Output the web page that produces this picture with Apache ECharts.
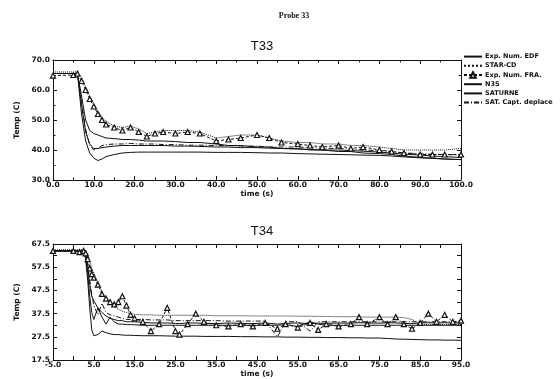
<!DOCTYPE html>
<html>
<head>
<meta charset="utf-8">
<script src="https://cdn.jsdelivr.net/npm/echarts@6/dist/echarts.min.js"></script>
<style>
  html, body { margin: 0; padding: 0; background: #fff; }
  #main { width: 560px; height: 379px; }
</style>
</head>
<body>
<div id="main"></div>
<script>
// noms des courbes (legende)
var names = ['Exp. Num. EDF', 'STAR-CD', 'Exp. Num. FRA.', 'N3S', 'SATURNE', 'SAT. Capt. deplace'];

// T33 : temps (s)
var t33 = [0, 5, 6, 7, 8, 9, 10, 11, 12, 13,
           15, 17, 19, 21, 23, 25, 27, 30, 33, 36,
           40, 43, 46, 50, 53, 56, 60, 63, 66, 70,
           73, 76, 80, 83, 86, 90, 93, 96, 100];
var edf33 = [65.5, 65.5, 65.5, 58, 50, 46.5, 45.5, 45, 44.5, 44,
             43.8, 43.5, 43.5, 43.3, 43, 43, 43, 42.8, 42.5, 42.5,
             42, 41.5, 41.5, 41, 41, 40.5, 40.5, 40, 40, 39.5,
             39.5, 39, 38.8, 38.5, 38, 37.5, 37.3, 37, 36.8];
var star33 = [66, 66, 66, 64, 61, 58, 55.5, 53, 51, 49.5,
              48, 47.5, 48, 47, 45.5, 46, 46.5, 46.5, 46.5, 46,
              44, 44.5, 45, 45, 44, 43, 42.5, 42.5, 42, 42,
              41.5, 41.5, 41, 40.5, 40, 40, 40, 40, 40.5];
var fra33 = [64.8, 65, 65.5, 63, 60, 57, 54.5, 52, 50, 48.5,
             47.5, 46.5, 47.5, 46, 44.5, 45.5, 46, 45.5, 46, 45.5,
             43, 43.5, 44, 45, 44, 42.5, 42, 41.5, 41, 41.5,
             40.5, 41, 40, 39.5, 39, 38.5, 38.5, 38.5, 38.5];
var n3s33 = [65.5, 65.5, 65.5, 52, 43, 39, 37.3, 36.5, 37, 37.8,
             38.5, 39, 39.2, 39.3, 39.3, 39.3, 39.3, 39.3, 39.3, 39.3,
             39.2, 39.2, 39.2, 39.1, 39, 39, 38.8, 38.7, 38.6, 38.5,
             38.4, 38.3, 38.2, 38, 37.7, 37.4, 37.2, 37, 36.8];
var sat33 = [65.5, 65.5, 65.5, 55, 46, 42, 40.5, 40.5, 40.8, 41,
             41.3, 41.5, 41.5, 41.5, 41.5, 41.5, 41.5, 41.3, 41.3, 41.2,
             41, 41, 40.8, 40.8, 40.6, 40.5, 40.3, 40.2, 40, 40,
             39.8, 39.6, 39.3, 39, 38.6, 38.3, 38, 37.8, 37.5];
var satc33 = [65.5, 65.5, 65.5, 56, 47, 41.5, 40, 40.5, 41.5, 41.8,
              42, 42, 42.2, 42, 42, 42, 41.8, 41.8, 41.6, 41.6,
              41.5, 41.5, 41.3, 41.3, 41, 41, 41, 40.8, 40.6, 40.5,
              40.3, 40, 39.8, 39.5, 39, 38.8, 38.6, 38.5, 38.3];

// T34 : temps (s)
var t34 = [-5, 0, 1.5, 2.5, 3, 3.5, 4, 4.5, 5,
           6, 7, 8, 9, 10, 11, 12, 13, 14, 15,
           17, 19, 21, 23, 25, 26, 28, 30, 32, 35,
           38, 41, 44, 47, 50, 52, 55, 58, 60, 62,
           65, 68, 70, 72, 75, 77, 79, 81, 83, 85,
           87, 89, 91, 93, 95];
var edf34 = [64.5, 64.5, 64.5, 64.3, 63, 58, 50, 45, 43,
             40, 38, 36.5, 35.5, 35, 34.5, 34.5, 34, 34, 34,
             33.8, 33.5, 33.5, 33.5, 33.3, 33.2, 33.5, 33.5, 33.3, 33.2,
             33.5, 33.3, 33.2, 33.5, 33, 33.3, 33.5, 33.2, 33.4, 33.3,
             33.5, 33.4, 33.6, 33.5, 33.4, 33.6, 33.5, 33.3, 33.2, 33.5,
             33.6, 33.5, 33.6, 33.5, 33.6];
var star34 = [65, 65, 65, 65, 64.8, 63.5, 60, 57, 55,
              51, 47, 44, 42, 40.5, 39.5, 38.5, 38, 37.5, 37.2,
              37, 37, 36.8, 36.8, 36.8, 36.8, 36.8, 36.8, 36.8, 36.6,
              36.6, 36.6, 36.5, 36.5, 36.5, 36.5, 36.4, 36.4, 36.3, 36.3,
              36.2, 36.2, 36.2, 36, 36, 36, 36, 35.8, 35, 33,
              32.8, 32.8, 32.8, 32.8, 32.8];
var fra34 = [64.5, 64.5, 64, 64.5, 63.5, 61, 57, 54.5, 53,
             50, 46, 44, 42.5, 41.5, 42.5, 45, 41, 37, 35.5,
             34, 30, 33, 40, 30, 28.5, 33, 37.5, 34, 32.5,
             32, 33, 32, 33.5, 31, 33, 31.5, 33.5, 30.5, 33,
             32, 33, 36, 33, 36, 33, 36, 33, 31, 33.5,
             37.5, 34, 37, 34, 34.5];
var n3s34 = [64.5, 64.5, 64.5, 64.5, 61, 52, 40, 30.5, 28,
             28.5, 30, 29.3, 28.8, 28.5, 28.5, 28.3, 28.2, 28.2, 28.1,
             28, 28, 28, 27.9, 27.8, 27.8, 27.8, 27.8, 27.7, 27.7,
             27.7, 27.6, 27.6, 27.5, 27.5, 27.4, 27.4, 27.3, 27.3, 27.2,
             27.2, 27.1, 27.1, 27, 27, 26.8, 26.6, 26.5, 26.4, 26.3,
             26.2, 26.2, 26.1, 26.1, 26];
var sat34 = [64.5, 64.5, 64.5, 64.5, 62, 55, 45, 38, 35,
             40, 36, 33, 36, 34, 33, 33, 32.8, 32.8, 32.7,
             32.5, 32.5, 32.5, 32.5, 32.5, 32.5, 32.5, 32.5, 32.5, 32.5,
             32.5, 32.5, 32.5, 32.5, 32.5, 32.8, 32, 34, 33, 32.5,
             32.5, 32.5, 32.5, 32.5, 32.5, 32.5, 32.5, 32.5, 32.5, 32.5,
             32.5, 32.5, 32.5, 32.5, 32.5];
var satc34 = [64.5, 64.5, 64.5, 64.5, 63, 59, 52, 46, 41,
              37, 42, 38, 37, 36.5, 36, 35.5, 35, 35, 35,
              35, 34.8, 34.8, 34.8, 34.5, 34.5, 34.5, 34.5, 34.5, 34.5,
              34.3, 34.3, 34.3, 34.3, 27.5, 34, 34, 30, 34, 34,
              34, 34, 34, 34, 34, 34, 34, 34, 34, 34,
              34, 34, 34, 34, 34];

// graduations
var xLabels34 = [-5, 5, 15, 25, 35, 45, 55, 65, 75, 85, 95];
var xTicks34 = [-5, 0, 5, 10, 15, 20, 25, 30, 35, 40, 45, 50, 55, 60, 65, 70, 75, 80, 85, 90, 95];
var yLabels34 = [17.5, 27.5, 37.5, 47.5, 57.5, 67.5];
var yTicks34 = [17.5, 22.5, 27.5, 32.5, 37.5, 42.5, 47.5, 52.5, 57.5, 62.5, 67.5];

var FONT = 'DejaVu Sans';
var BLACK = '#111';

function pairs(t, v) {
    return t.map(function (x, i) { return [x, v[i]]; });
}

var styles = [
    { type: 'solid', symbol: 'none' },
    { type: 'dotted', symbol: 'none' },
    { type: [3, 2], symbol: 'triangle' },
    { type: 'solid', symbol: 'none' },
    { type: 'solid', symbol: 'none' },
    { type: [5, 2, 1, 2], symbol: 'none' }
];

function makeSeries(idx, t, lists) {
    return lists.map(function (v, i) {
        var s = styles[i];
        return {
            name: names[i],
            type: 'line',
            xAxisIndex: idx,
            yAxisIndex: idx,
            data: pairs(t, v),
            symbol: s.symbol,
            symbolSize: 5,
            showAllSymbol: true,
            itemStyle: { color: '#fff', borderColor: BLACK, borderWidth: 1.2 },
            lineStyle: { color: BLACK, width: 1, type: s.type },
            emphasis: { disabled: true }
        };
    });
}

// legende : trait seul sauf pour les triangles
var legendData = names.map(function (n, i) {
    if (styles[i].symbol === 'none') {
        return { name: n, itemStyle: { opacity: 0 } };
    }
    return { name: n };
});

var lbl = { fontFamily: FONT, fontWeight: 'bold', fontSize: 7.5, color: BLACK };
var axisLine = { show: true, onZero: false, lineStyle: { color: BLACK, width: 1 } };

var myChart = echarts.init(document.getElementById('main'));

var option = {
    animation: false,
    backgroundColor: '#fff',
    title: [
        { text: 'Probe 33', left: 289, top: 7, textAlign: 'center',
          textStyle: { fontFamily: 'Liberation Serif', fontWeight: 'bold', fontSize: 8, color: BLACK } },
        { text: 'T33', left: 257, top: 35, textAlign: 'center',
          textStyle: { fontFamily: 'Liberation Sans', fontWeight: 'normal', fontSize: 13, color: BLACK } },
        { text: 'T34', left: 257, top: 220, textAlign: 'center',
          textStyle: { fontFamily: 'Liberation Sans', fontWeight: 'normal', fontSize: 13, color: BLACK } }
    ],
    legend: {
        orient: 'vertical',
        left: 463,
        top: 52,
        padding: 0,
        itemWidth: 18,
        itemHeight: 7,
        itemGap: 0,
        selectedMode: false,
        data: legendData,
        textStyle: { fontFamily: FONT, fontWeight: 'bold', fontSize: 6.5, lineHeight: 9.2, color: BLACK, padding: [0, 0, 0, -2] }
    },
    grid: [
        { left: 53, top: 60, width: 408, height: 120, show: false },
        { left: 53, top: 244, width: 408, height: 122.5, show: false }
    ],
    xAxis: [
        {
            type: 'value', gridIndex: 0, min: 0, max: 100, interval: 10,
            name: 'time (s)', nameLocation: 'middle', nameGap: 6.5,
            nameTextStyle: lbl,
            axisLine: axisLine,
            axisTick: { show: true, inside: true, length: 4, lineStyle: { color: BLACK } },
            minorTick: { show: true, splitNumber: 2, length: 2.5, lineStyle: { color: BLACK } },
            axisLabel: { margin: 1, formatter: function (v) { return v.toFixed(1); }, textStyle: lbl },
            splitLine: { show: false }
        },
        {
            type: 'value', gridIndex: 1, min: -5, max: 95,
            name: 'time (s)', nameLocation: 'middle', nameGap: 3.5,
            nameTextStyle: lbl,
            axisLine: axisLine,
            axisTick: { show: true, inside: true, length: 4, customValues: xTicks34, lineStyle: { color: BLACK } },
            axisLabel: { margin: 1, customValues: xLabels34, formatter: function (v) { return v.toFixed(1); }, textStyle: lbl },
            splitLine: { show: false }
        },
        {
            type: 'value', gridIndex: 0, position: 'top', min: 0, max: 100, interval: 10,
            axisLine: axisLine,
            axisTick: { show: true, inside: true, length: 4, lineStyle: { color: BLACK } },
            minorTick: { show: true, splitNumber: 2, length: 2.5, lineStyle: { color: BLACK } },
            axisLabel: { show: false }, splitLine: { show: false }
        },
        {
            type: 'value', gridIndex: 1, position: 'top', min: -5, max: 95,
            axisLine: axisLine,
            axisTick: { show: true, inside: true, length: 4, customValues: xTicks34, lineStyle: { color: BLACK } },
            axisLabel: { show: false }, splitLine: { show: false }
        }
    ],
    yAxis: [
        {
            type: 'value', gridIndex: 0, min: 30, max: 70, interval: 10,
            name: 'Temp (C)', nameLocation: 'middle', nameGap: 31,
            nameTextStyle: lbl,
            axisLine: axisLine,
            axisTick: { show: true, inside: true, length: 4, lineStyle: { color: BLACK } },
            minorTick: { show: true, splitNumber: 2, length: 2.5, lineStyle: { color: BLACK } },
            axisLabel: { margin: 3, formatter: function (v) { return v.toFixed(1); }, textStyle: lbl },
            splitLine: { show: false }
        },
        {
            type: 'value', gridIndex: 1, min: 17.5, max: 67.5,
            name: 'Temp (C)', nameLocation: 'middle', nameGap: 31,
            nameTextStyle: lbl,
            axisLine: axisLine,
            axisTick: { show: true, inside: true, length: 4, customValues: yTicks34, lineStyle: { color: BLACK } },
            axisLabel: { margin: 3, customValues: yLabels34, formatter: function (v) { return v.toFixed(1); }, textStyle: lbl },
            splitLine: { show: false }
        },
        {
            type: 'value', gridIndex: 0, position: 'right', min: 30, max: 70, interval: 10,
            axisLine: axisLine,
            axisTick: { show: true, inside: true, length: 4, lineStyle: { color: BLACK } },
            minorTick: { show: true, splitNumber: 2, length: 2.5, lineStyle: { color: BLACK } },
            axisLabel: { show: false }, splitLine: { show: false }
        },
        {
            type: 'value', gridIndex: 1, position: 'right', min: 17.5, max: 67.5,
            axisLine: axisLine,
            axisTick: { show: true, inside: true, length: 4, customValues: yTicks34, lineStyle: { color: BLACK } },
            axisLabel: { show: false }, splitLine: { show: false }
        }
    ],
    series: []
};

option.series = makeSeries(0, t33, [edf33, star33, fra33, n3s33, sat33, satc33])
    .concat(makeSeries(1, t34, [edf34, star34, fra34, n3s34, sat34, satc34]));

myChart.setOption(option);
</script>
</body>
</html>
